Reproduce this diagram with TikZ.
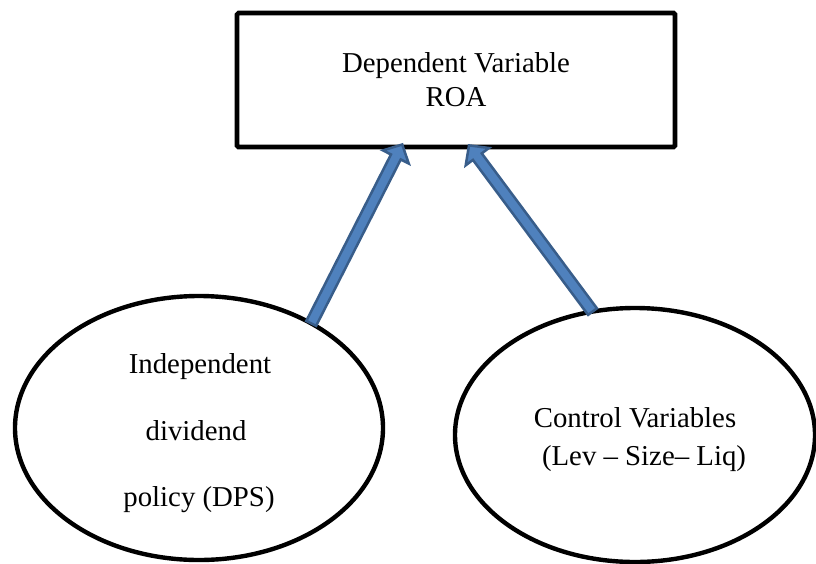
\documentclass[tikz,border=0pt]{standalone}
\usepackage{fontspec}
\setmainfont{Liberation Serif}
\usetikzlibrary{shapes.geometric,calc}
\definecolor{arrowblue}{HTML}{4F81BD}
\definecolor{arrowdark}{HTML}{385D8A}
\tikzset{
  boxstyle/.style={draw=black, line width=4.6pt, rectangle, rounded corners=1.5pt,
    minimum width=438pt, minimum height=134pt, inner sep=0pt, outer sep=0pt,
    align=center, font=\fontsize{28.8pt}{34pt}\selectfont},
  ellstyle/.style={draw=black, line width=4.4pt, ellipse, inner sep=0pt, outer sep=0pt},
  labelstyle/.style={anchor=base, inner sep=0pt, font=\fontsize{28.8pt}{34pt}\selectfont},
  fatarrow/.style={draw=arrowdark, fill=arrowblue, line width=2.5pt, line join=miter}
}
\newcommand{\fatarrowdraw}[2]{%
  \coordinate (hb) at ($(#2)!14pt!(#1)$);
  \draw[fatarrow] ($(#1)!5.5pt!90:(#2)$) -- ($(hb)!5.5pt!-90:(#1)$) -- ($(hb)!14.5pt!-90:(#1)$) -- (#2) -- ($(hb)!14.5pt!90:(#1)$) -- ($(hb)!5.5pt!90:(#1)$) -- ($(#1)!5.5pt!-90:(#2)$) -- cycle;
}
\begin{document}
\begin{tikzpicture}[x=1pt,y=1pt]
\useasboundingbox (0,0) rectangle (816,-563);
\fill[white] (0,0) rectangle (816,-563);
\node[boxstyle] (B) at (456,-80) {Dependent Variable\\ROA};
\node[ellstyle, minimum width=368pt, minimum height=264pt] (L) at (199,-428) {};
\node[ellstyle, minimum width=360pt, minimum height=254pt] (R) at (635,-435) {};
\node[labelstyle] (l1) at (200,-373) {Independent};
\node[labelstyle] (l2) at (196,-440) {dividend};
\node[labelstyle] (l3) at (199,-506) {policy (DPS)};
\node[labelstyle] (r1) at (635,-427) {Control Variables};
\node[labelstyle] (r2) at (644,-465) {(Lev -- Size-- Liq)};
\coordinate (t1) at (L.43);
\coordinate (h1) at ($(B.south)+(-53.8,2.5)$);
\coordinate (t2) at (R.109.6);
\coordinate (h2) at ($(B.south)+(13,1.6)$);
\fatarrowdraw{t1}{h1}
\fatarrowdraw{t2}{h2}
\end{tikzpicture}
\end{document}
